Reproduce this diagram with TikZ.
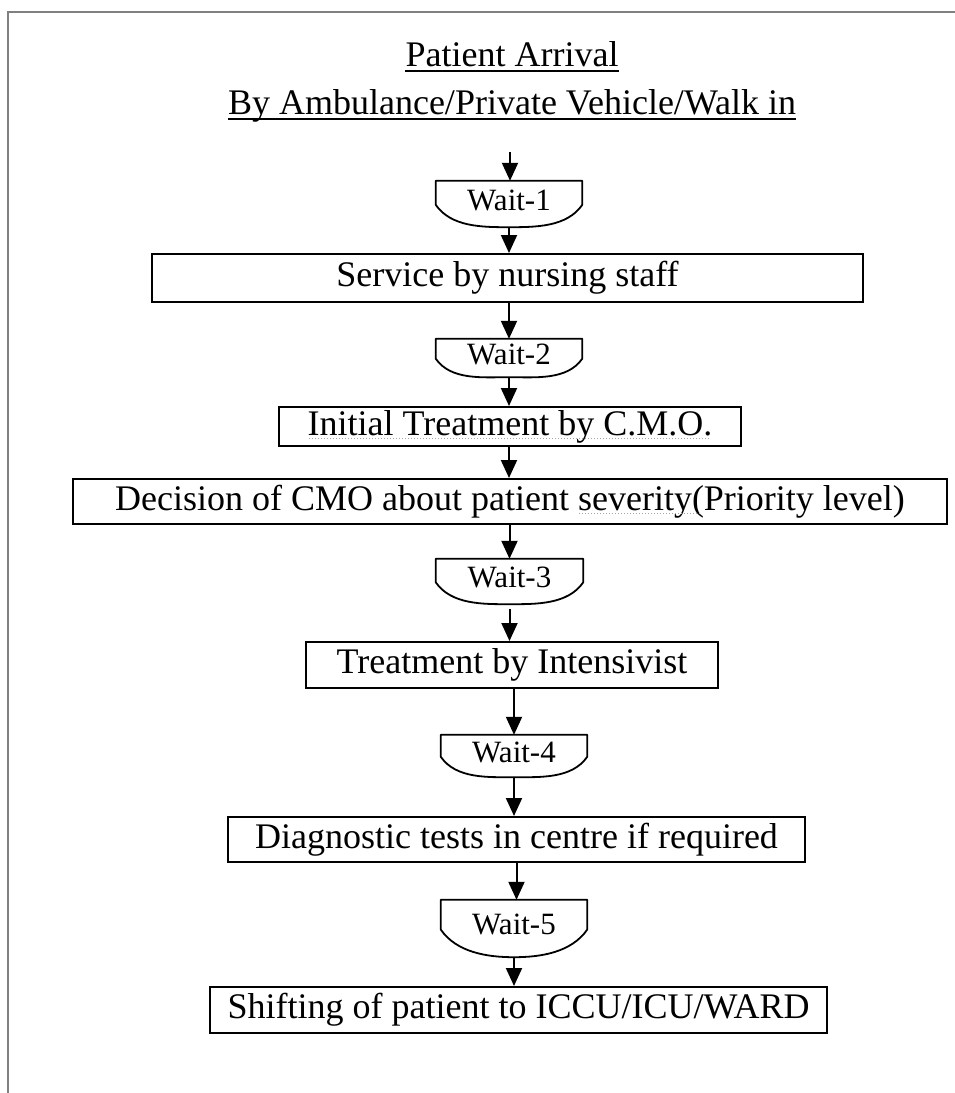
\documentclass[tikz,border=0pt]{standalone}
\usepackage{fontspec}
\setmainfont{Liberation Serif}
\usetikzlibrary{arrows.meta,calc}
\newcommand\spellmark[1]{\setbox0=\hbox{#1}\rlap{\copy0}\raisebox{-4pt}{\textcolor{gray!70}{\leaders\hbox to 3pt{\hss\rule{1.2pt}{1.2pt}\hss}\hskip\wd0}}}
\begin{document}
\begin{tikzpicture}[x=1pt,y=-1pt,
  bigtext/.style={font=\fontsize{36}{40}\selectfont},
  titletext/.style={bigtext, inner sep=0pt, anchor=base},
  stepbox/.style={draw, line width=2pt, inner sep=0pt, bigtext, text height=25pt, text depth=8pt},
  waitnode/.style={inner sep=0pt, font=\fontsize{31}{34}\selectfont, text height=20pt, text depth=8pt},
  waitline/.style={line width=1.8pt, line join=round},
  arr/.style={line width=2pt, -{Triangle[length=18pt,width=16pt]}},
  uline/.style={line width=1.8pt},
  frameline/.style={draw=gray, line width=1.5pt}
]
\useasboundingbox (0,0) rectangle (955,1093);
\fill[white] (0,0) rectangle (955,1093);
\draw[frameline] (955,12) -- (8,12) -- (8,1093);

% titles
\node[titletext] (tA) at (512,66) {Patient Arrival};
\node[titletext] (tB) at (512,114) {By Ambulance/Private Vehicle/Walk in};
\draw[uline] ($(tA.base west)+(0,5)$) -- ($(tA.base east)+(0,5)$);
\draw[uline] ($(tB.base west)+(0,5)$) -- ($(tB.base east)+(0,5)$);

% wait nodes
\node[waitnode, minimum width=146pt, minimum height=46pt] (w1) at (509,204) {Wait-1\hspace{13pt}};
\node[waitnode, minimum width=146pt, minimum height=38pt] (w2) at (509,358) {Wait-2\hspace{13pt}};
\node[waitnode, minimum width=147pt, minimum height=45pt] (w3) at (509.5,581.5) {Wait-3\hspace{13pt}};
\node[waitnode, minimum width=146pt, minimum height=42pt] (w4) at (514,756) {Wait-4\hspace{12pt}};
\node[waitnode, minimum width=146pt, minimum height=57pt] (w5) at (514,928.5) {Wait-5\hspace{12pt}};
\foreach \n in {w1,w2,w3,w4,w5}{
  \draw[waitline] (\n.north west) -- (\n.north east)
    -- ($(\n.north east)!0.52!(\n.south east)$)
    to[out=-125,in=0,looseness=0.9] (\n.south)
    to[out=180,in=-55,looseness=0.9] ($(\n.north west)!0.52!(\n.south west)$) -- cycle;
}

% process boxes
\node[stepbox, minimum width=711pt, minimum height=48pt] (s1) at (507.5,278) {Service by nursing staff};
\node[stepbox, minimum width=462pt, minimum height=39pt] (i1) at (510,426.5) {\spellmark{Initial Treatment by C.M.O.}};
\node[stepbox, minimum width=874pt, minimum height=45pt] (d1) at (510,501.5) {Decision of CMO about patient \spellmark{severity(}Priority level)};
\node[stepbox, minimum width=412pt, minimum height=46pt] (t2) at (512,665) {Treatment by Intensivist};
\node[stepbox, minimum width=577pt, minimum height=45pt] (dg) at (516.5,839.5) {Diagnostic tests in centre if required\hspace{24pt}};
\node[stepbox, minimum width=617pt, minimum height=46pt] (sh) at (518.5,1010) {Shifting of patient to ICCU/ICU/WARD};

% connectors
\coordinate (start) at (510,152);
\draw[arr] (start) -- (start |- w1.north);
\draw[arr] (w1.south) -- (w1.south |- s1.north);
\draw[arr] (w1.south |- s1.south) -- (w2.north);
\draw[arr] (w2.south) -- (w2.south |- i1.north);
\draw[arr] (w2.south |- i1.south) -- (w2.south |- d1.north);
\draw[arr] (w3.north |- d1.south) -- (w3.north);
\draw[arr] ([yshift=-5pt]w3.south) -- (w3.south |- t2.north);
\draw[arr] (w4.north |- t2.south) -- (w4.north);
\draw[arr] (w4.south) -- (w4.south |- dg.north);
\draw[arr] (dg.south) -- (dg.south |- w5.north);
\draw[arr] (w5.south) -- (w5.south |- sh.north);
\end{tikzpicture}
\end{document}
